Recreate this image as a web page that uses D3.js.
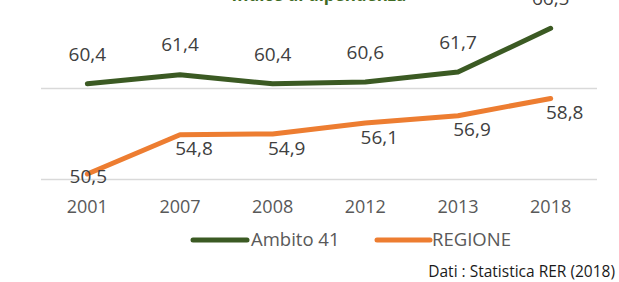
<!DOCTYPE html>
<html>
<head>
<meta charset="utf-8">
<script src="https://cdn.jsdelivr.net/npm/d3@7"></script>
<style>
  html, body { margin: 0; padding: 0; background: #fff; }
  svg { display: block; font-family: "Open Sans", sans-serif; }
</style>
</head>
<body>
<div id="chart"></div>
<script>
// Indice di dipendenza, Ambito 41 vs REGIONE
const years = ['2001', '2007', '2008', '2012', '2013', '2018'];
const ambito = [60.4, 61.4, 60.4, 60.6, 61.7, 66.5];
const regione = [50.5, 54.8, 54.9, 56.1, 56.9, 58.8];
const gridValues = [50, 60, 70];

const W = 619, H = 282;
const GREEN = '#3b5a23', ORANGE = '#ed7d31';
const fmt = v => v.toFixed(1).replace('.', ',');

const svg = d3.select('#chart').append('svg')
  .attr('width', W).attr('height', H);

const x = d3.scaleBand().domain(years).range([41, 597]);
const y = d3.scaleLinear().domain([50, 60]).range([178.5, 87.5]);
const cx = d => x(d) + x.bandwidth() / 2;

// title, mostly cropped off the top (as in the source image)
svg.append('text')
  .attr('x', 319).attr('y', 1)
  .attr('text-anchor', 'middle')
  .attr('font-size', 17).attr('font-weight', 'bold')
  .attr('fill', '#3f6b24')
  .text('Indice di dipendenza');

// gridlines
svg.append('g').selectAll('line')
  .data(gridValues)
  .join('line')
  .attr('x1', 41).attr('x2', 597)
  .attr('y1', d => Math.round(y(d)) + 0.5).attr('y2', d => Math.round(y(d)) + 0.5)
  .attr('stroke', '#d9d9d9').attr('stroke-width', 1.5);

// category labels
svg.append('g').selectAll('text')
  .data(years)
  .join('text')
  .attr('x', cx).attr('y', 207)
  .attr('dy', '0.35em')
  .attr('text-anchor', 'middle')
  .attr('font-size', 18).attr('fill', '#595959')
  .text(d => d);

const line = d3.line()
  .x((d, i) => cx(years[i]))
  .y(d => y(d));

const series = [
  { name: 'Ambito 41', values: ambito, color: GREEN, dx: () => 0, dy: () => -30 },
  { name: 'REGIONE', values: regione, color: ORANGE,
    dx: i => i === 0 ? 1 : 14, dy: i => i === 0 ? 2 : 14 }
];

series.forEach(s => {
  svg.append('path')
    .datum(s.values)
    .attr('d', line)
    .attr('fill', 'none')
    .attr('stroke', s.color)
    .attr('stroke-width', 5)
    .attr('stroke-linejoin', 'round')
    .attr('stroke-linecap', 'round');
});

// data labels (drawn after both lines)
series.forEach(s => {
  svg.append('g').selectAll('text')
    .data(s.values)
    .join('text')
    .attr('x', (d, i) => cx(years[i]) + s.dx(i))
    .attr('y', (d, i) => y(d) + s.dy(i))
    .attr('dy', '0.35em')
    .attr('text-anchor', 'middle')
    .attr('font-size', 19).attr('fill', '#404040')
    .text(fmt);
});

// legend
const legend = svg.append('g');
const legendPos = [{ x1: 193, x2: 247, tx: 251 }, { x1: 377, x2: 430, tx: 432 }];
series.forEach((s, i) => {
  const p = legendPos[i];
  legend.append('line')
    .attr('x1', p.x1).attr('x2', p.x2).attr('y1', 240).attr('y2', 240)
    .attr('stroke', s.color).attr('stroke-width', 5).attr('stroke-linecap', 'round');
  legend.append('text')
    .attr('x', p.tx).attr('y', 240).attr('dy', '0.35em')
    .attr('font-size', 18.5).attr('fill', '#595959')
    .text(s.name);
});

// source note
svg.append('text')
  .attr('x', 615).attr('y', 272).attr('dy', '0.35em')
  .attr('text-anchor', 'end')
  .attr('font-size', 15.5).attr('fill', '#1a1a1a')
  .text('Dati : Statistica RER (2018)');
</script>
</body>
</html>
